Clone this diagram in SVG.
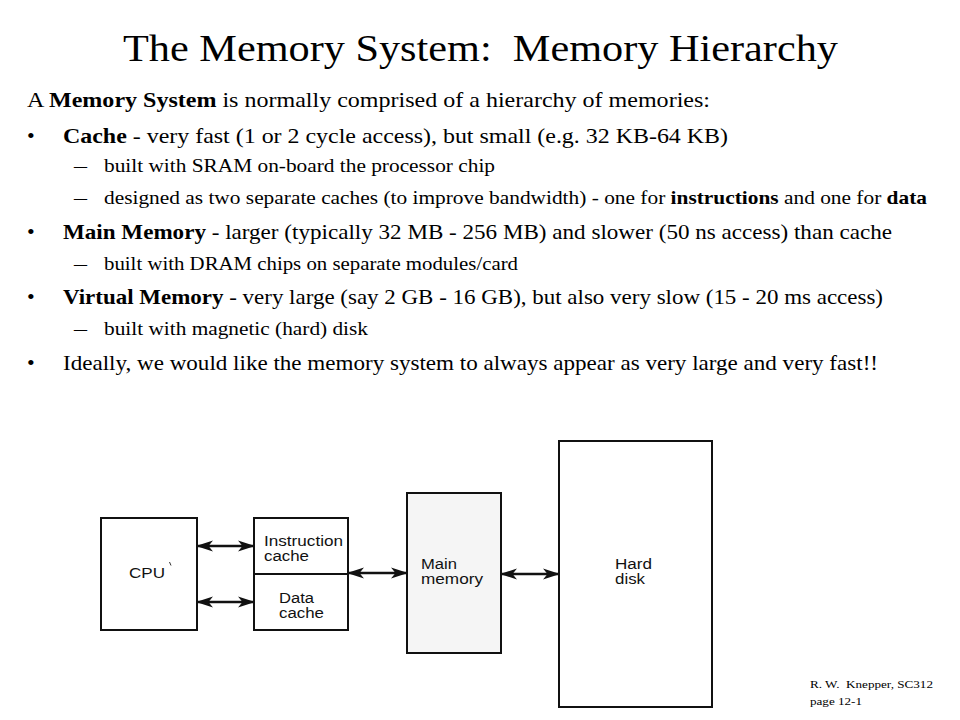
<svg xmlns="http://www.w3.org/2000/svg" width="960" height="720" viewBox="0 0 960 720">
<style>
.serif{font-family:"Liberation Serif","Times New Roman",serif;fill:#000}
.title{font-size:38px}
.main{font-size:22px}
.sub{font-size:19px}
.foot{font-size:11px}
.lbl{font-family:"Liberation Sans",Arial,sans-serif;font-size:14px;fill:#111}
.box{fill:#fff;stroke:#111;stroke-width:2}
.conn{stroke:#111;stroke-width:2.5;fill:none;marker-start:url(#ah);marker-end:url(#ah)}
.b{font-weight:bold}
</style>
<defs>
<marker id="ah" markerUnits="userSpaceOnUse" markerWidth="18" markerHeight="12" refX="16" refY="6" orient="auto-start-reverse">
<path d="M0,0.5 L17,6 L0,11.5 L4.5,6 z" fill="#111"/>
</marker>
</defs>
<rect width="960" height="720" fill="#fff"/>

<text class="serif title" x="123" y="61" textLength="715" lengthAdjust="spacingAndGlyphs" xml:space="preserve">The Memory System:  Memory Hierarchy</text>

<g id="text-body">
<text class="serif main" x="27" y="107" textLength="683" lengthAdjust="spacingAndGlyphs">A <tspan class="b">Memory System</tspan> is normally comprised of a hierarchy of memories:</text>

<text class="serif main" x="27" y="143">•</text>
<text class="serif main" x="63" y="143" textLength="665" lengthAdjust="spacingAndGlyphs"><tspan class="b">Cache</tspan> - very fast (1 or 2 cycle access), but small (e.g. 32 KB-64 KB)</text>

<text class="serif sub" x="74" y="172" textLength="13" lengthAdjust="spacingAndGlyphs">–</text>
<text class="serif sub" x="104" y="172" textLength="391" lengthAdjust="spacingAndGlyphs">built with SRAM on-board the processor chip</text>

<text class="serif sub" x="74" y="204" textLength="13" lengthAdjust="spacingAndGlyphs">–</text>
<text class="serif sub" x="104" y="204" textLength="823" lengthAdjust="spacingAndGlyphs">designed as two separate caches (to improve bandwidth) - one for <tspan class="b">instructions</tspan> and one for <tspan class="b">data</tspan></text>

<text class="serif main" x="27" y="239">•</text>
<text class="serif main" x="63" y="239" textLength="829" lengthAdjust="spacingAndGlyphs"><tspan class="b">Main Memory</tspan> - larger (typically 32 MB - 256 MB) and slower (50 ns access) than cache</text>

<text class="serif sub" x="74" y="270" textLength="13" lengthAdjust="spacingAndGlyphs">–</text>
<text class="serif sub" x="104" y="270" textLength="414" lengthAdjust="spacingAndGlyphs">built with DRAM chips on separate modules/card</text>

<text class="serif main" x="27" y="304">•</text>
<text class="serif main" x="63" y="304" textLength="820" lengthAdjust="spacingAndGlyphs"><tspan class="b">Virtual Memory</tspan> - very large (say 2 GB - 16 GB), but also very slow (15 - 20 ms access)</text>

<text class="serif sub" x="74" y="335" textLength="13" lengthAdjust="spacingAndGlyphs">–</text>
<text class="serif sub" x="104" y="335" textLength="264" lengthAdjust="spacingAndGlyphs">built with magnetic (hard) disk</text>

<text class="serif main" x="27" y="370">•</text>
<text class="serif main" x="63" y="370" textLength="815" lengthAdjust="spacingAndGlyphs">Ideally, we would like the memory system to always appear as very large and very fast!!</text>
</g>

<g id="connectors">
<line class="conn" x1="197" y1="546" x2="254" y2="546"/>
<line class="conn" x1="197" y1="602" x2="254" y2="602"/>
<line class="conn" x1="348" y1="573" x2="407" y2="573"/>
<line class="conn" x1="501" y1="574" x2="559" y2="574"/>
</g>

<g id="cpu">
<rect class="box" x="101" y="518" width="96" height="112"/>
<text class="lbl" x="129" y="578" textLength="36" lengthAdjust="spacingAndGlyphs" style="font-size:15px">CPU</text>
<path d="M169.5,562 L171,565.5" stroke="#333" stroke-width="1"/>
</g>

<g id="caches">
<rect class="box" x="254" y="518" width="94" height="112"/>
<line x1="254" y1="574" x2="348" y2="574" stroke="#111" stroke-width="2"/>
<g id="instruction-cache">
<text class="lbl" x="264" y="546" textLength="79" lengthAdjust="spacingAndGlyphs">Instruction</text>
<text class="lbl" x="264" y="561" textLength="45" lengthAdjust="spacingAndGlyphs">cache</text>
</g>
<g id="data-cache">
<text class="lbl" x="279" y="603" textLength="35" lengthAdjust="spacingAndGlyphs">Data</text>
<text class="lbl" x="279" y="618" textLength="45" lengthAdjust="spacingAndGlyphs">cache</text>
</g>
</g>

<g id="main-memory">
<rect class="box" x="407" y="493" width="94" height="160" style="fill:#f5f5f5"/>
<text class="lbl" x="421" y="569" textLength="36" lengthAdjust="spacingAndGlyphs">Main</text>
<text class="lbl" x="421" y="584" textLength="62" lengthAdjust="spacingAndGlyphs">memory</text>
</g>

<g id="hard-disk">
<rect class="box" x="559" y="441" width="153" height="266"/>
<text class="lbl" x="615" y="569" textLength="37" lengthAdjust="spacingAndGlyphs">Hard</text>
<text class="lbl" x="615" y="584" textLength="30" lengthAdjust="spacingAndGlyphs">disk</text>
</g>

<g id="footer">
<text class="serif foot" x="810" y="688" textLength="123" lengthAdjust="spacingAndGlyphs" xml:space="preserve">R. W.  Knepper, SC312</text>
<text class="serif foot" x="810" y="705" textLength="52" lengthAdjust="spacingAndGlyphs">page 12-1</text>
</g>
</svg>
